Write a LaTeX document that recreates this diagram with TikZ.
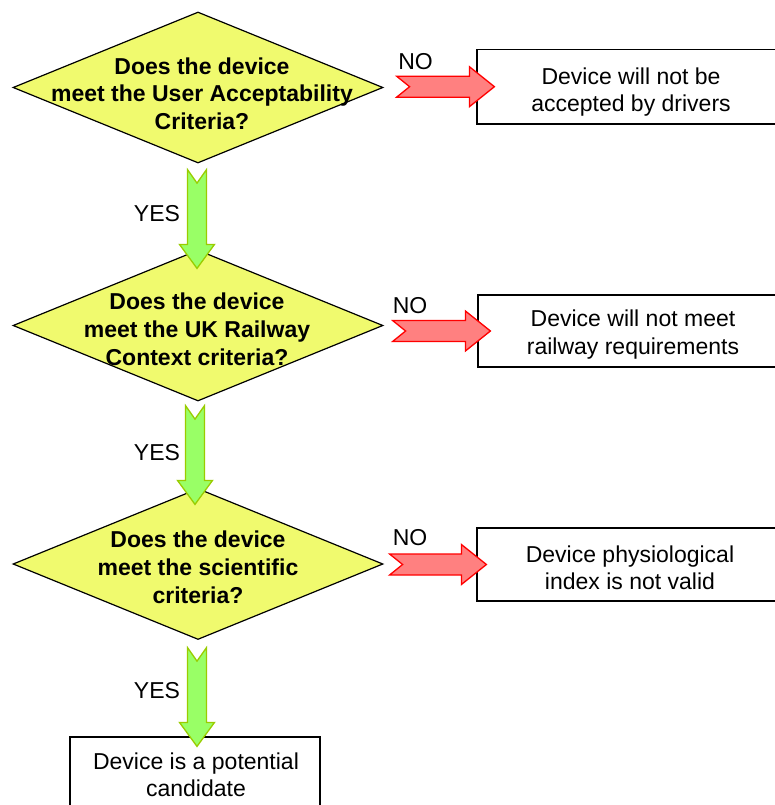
\documentclass[tikz,border=0pt]{standalone}
\usepackage{fontspec}
\setmainfont{Liberation Sans}
\usetikzlibrary{shapes.geometric,calc}
\definecolor{dyellow}{RGB}{240,250,110}
\definecolor{agreen}{RGB}{153,255,102}
\definecolor{agreenline}{RGB}{153,204,0}
\definecolor{ared}{RGB}{255,128,128}
\newcommand\HArrow[3]{\draw[#1] let \p1=(#2), \p2=(#3) in
 (\x1,\y1+10.5pt) -- (\x2-25pt,\y1+10.5pt) -- (\x2-25pt,\y1+20pt) -- (\x2,\y1)
 -- (\x2-25pt,\y1-20pt) -- (\x2-25pt,\y1-10.5pt) -- (\x1,\y1-10.5pt) -- (\x1+13pt,\y1) -- cycle;}
\newcommand\VArrow[3]{\draw[#1] let \p1=(#2), \p2=(#3) in
 (\x1-9.5pt,\y1) -- (\x1-9.5pt,\y2+24pt) -- (\x1-17.5pt,\y2+24pt) -- (\x2,\y2)
 -- (\x1+17.5pt,\y2+24pt) -- (\x1+9.5pt,\y2+24pt) -- (\x1+9.5pt,\y1) -- (\x1,\y1-13.5pt) -- cycle;}
\begin{document}
\begin{tikzpicture}[x=1pt,y=-1pt,
  dia/.style={diamond, draw=black, line width=1.2pt, fill=dyellow, minimum width=370pt, minimum height=151pt, inner sep=0pt},
  qtext/.style={font=\fontsize{23}{27.6}\selectfont\bfseries, align=center, inner sep=0pt, anchor=base},
  outbox/.style={draw=black, line width=1.2pt, fill=white, inner sep=0pt},
  btext/.style={font=\fontsize{23}{27.4}\selectfont, align=center, inner sep=0pt, anchor=base},
  lbl/.style={font=\fontsize{23}{27}\selectfont, inner sep=0pt, anchor=base},
  redarrow/.style={fill=ared, draw=red, line width=1.3pt},
  greenarrow/.style={fill=agreen, draw=agreenline, line width=1.3pt}]
\useasboundingbox (0,0) rectangle (775,805);
\clip (0,0) rectangle (775,805);
\fill[white] (0,0) rectangle (775,805);

% diamonds
\node[dia] (d1) at (198,87.5) {};
\node[dia] (d2) at (198,325.5) {};
\node[dia] (d3) at (198,564) {};

% outcome boxes
\node[outbox, minimum width=309pt, minimum height=74.7pt] (b1) at (631.5,86.7) {};
\node[outbox, minimum width=308pt, minimum height=72pt] (b2) at (632,331) {};
\node[outbox, minimum width=309pt, minimum height=73pt] (b3) at (631.5,564.5) {};
\node[outbox, minimum width=250pt, minimum height=93pt] (bx) at (195,783.5) {};

% arrow end points
\coordinate (r1s) at ($(d1.east |- b1.west)+(13,0)$);
\coordinate (r1e) at ($(b1.west)+(18,0)$);
\coordinate (r2s) at ($(d2.east |- b2.west)+(9,0)$);
\coordinate (r2e) at ($(b2.west)+(13,0)$);
\coordinate (r3s) at ($(d3.east |- b3.west)+(6,0)$);
\coordinate (r3e) at ($(b3.west)+(10,0)$);
\coordinate (g1s) at ($(d1.south)+(-1,6)$);
\coordinate (g1e) at ($(d2.north)+(-1,19)$);
\coordinate (g2s) at ($(d2.south)+(-3,4)$);
\coordinate (g2e) at ($(d3.north)+(-3,16.5)$);
\coordinate (g3s) at ($(d3.south)+(-1,7.5)$);
\coordinate (g3e) at ($(bx.north)+(2,10)$);

% block arrows
\HArrow{redarrow}{r1s}{r1e}
\HArrow{redarrow}{r2s}{r2e}
\HArrow{redarrow}{r3s}{r3e}
\VArrow{greenarrow}{g1s}{g1e}
\VArrow{greenarrow}{g2s}{g2e}
\VArrow{greenarrow}{g3s}{g3e}

% texts (anchor base = last line's baseline)
\node[qtext] (t1) at (202,129.3) {Does the device\\meet the User Acceptability\\Criteria?};
\node[qtext] (t2) at (197,365) {Does the device\\meet the UK Railway\\Context criteria?};
\node[qtext] (t3) at (198,603) {Does the device\\meet the scientific\\criteria?};
\node[btext] (u1) at (631,111.7) {Device will not be\\accepted by drivers};
\node[btext] (u2) at (633,354) {Device will not meet\\railway requirements};
\node[btext] (u3) at (630,589.5) {Device physiological\\index is not valid};
\node[btext] (ux) at (196,796.7) {Device is a potential\\candidate};

% labels
\node[lbl] (no1) at (415.5,69.3) {NO};
\node[lbl] (no2) at (410,313) {NO};
\node[lbl] (no3) at (410,545.7) {NO};
\node[lbl] (yes1) at (157,221.7) {YES};
\node[lbl] (yes2) at (157,460) {YES};
\node[lbl] (yes3) at (157,698) {YES};
\end{tikzpicture}
\end{document}
